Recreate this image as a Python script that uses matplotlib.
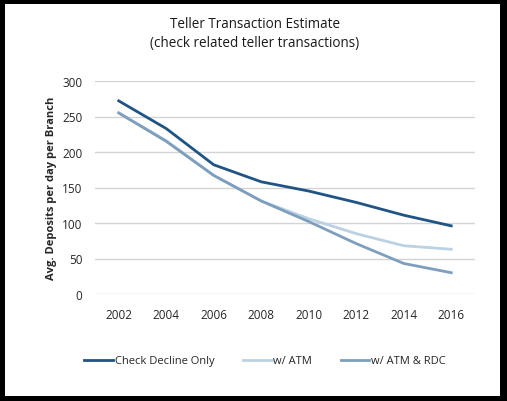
import matplotlib
matplotlib.use('Agg')
import matplotlib.pyplot as plt
from matplotlib.patches import Rectangle

plt.rcParams['font.family'] = ['Open Sans', 'DejaVu Sans']

years = ['2002', '2004', '2006', '2008', '2010', '2012', '2014', '2016']
check_decline = [272, 233, 182, 158, 145, 129, 111, 96]
with_atm = [255, 216, 167, 131, 106, 85, 68, 63]
with_atm_rdc = [255, 215, 167, 131, 102, 71, 43, 30]
y_ticks = [0, 50, 100, 150, 200, 250, 300]

fig = plt.figure(figsize=(5.07, 4.02), dpi=100)
fig.patch.set_facecolor('black')
# white card inside the black frame
fig.patches.append(Rectangle((5 / 507, 5 / 402), 495 / 507, 392 / 402,
                             transform=fig.transFigure, facecolor='white',
                             edgecolor='none', zorder=-5))

ax = fig.add_axes([95 / 507, 1 - 295 / 402, 380 / 507, 213 / 402])
ax.set_facecolor('none')
x = range(len(years))
ax.plot(x, check_decline, color='#1f5485', lw=2, label='Check Decline Only')
ax.plot(x, with_atm, color='#bcd1e2', lw=2, label='w/ ATM')
ax.plot(x, with_atm_rdc, color='#7d9ebd', lw=2, label='w/ ATM & RDC')

ax.set_xlim(-0.5, len(years) - 0.5)
ax.set_ylim(0, 300)
ax.set_yticks(y_ticks)
ax.set_xticks(list(x))
ax.set_xticklabels(years)
ax.grid(axis='y', color='#d4d4d4', lw=1)
ax.set_axisbelow(True)
for s in ax.spines.values():
    s.set_visible(False)
ax.tick_params(length=0, labelsize=8.5, colors='#262626', pad=9)
ax.tick_params(axis='x', pad=10)
ax.set_ylabel('Avg. Deposits per day per Branch', fontsize=8, fontweight='bold',
              color='#262626', labelpad=4)

fig.text(255 / 507, 1 - 25 / 402, 'Teller Transaction Estimate', ha='center', va='center',
         fontsize=9.75, color='#1a1a1a')
fig.text(255 / 507, 1 - 43 / 402, '(check related teller transactions)', ha='center', va='center',
         fontsize=9.75, color='#1a1a1a')

fig.legend(loc='center', bbox_to_anchor=(265 / 507, 1 - 362 / 402), ncol=3, frameon=False,
           fontsize=8, handlelength=2.6, handletextpad=0.15, columnspacing=2.55,
           labelcolor='#262626')

fig.savefig('out.png', dpi=100, facecolor=fig.get_facecolor())
